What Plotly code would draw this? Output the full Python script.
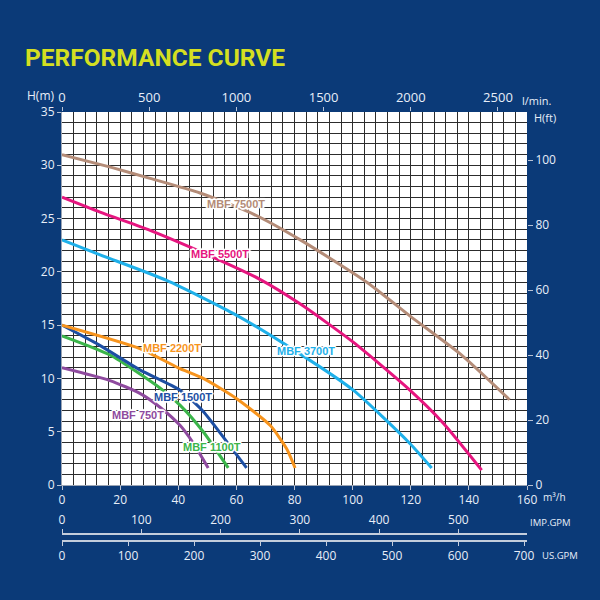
import plotly.graph_objects as go

# ---- unit conversions (from m3/h and m) ----
M3H_TO_LPM = 1000 / 60
M3H_TO_IMPGPM = 1000 / 60 / 4.54609
M3H_TO_USGPM = 1000 / 60 / 3.785411
M_TO_FT = 1 / 0.3048

# ---- data: flow Q (m3/h) vs head H (m) ----
q_750 = [0, 16.5, 26.8, 33.7, 40.6, 45.0, 50.3]
h_750 = [11.0, 9.8, 8.6, 7.3, 5.6, 4.0, 1.6]

q_1100 = [0, 16.5, 33.7, 40.6, 48.6, 57.2]
h_1100 = [14.0, 12.2, 9.1, 7.5, 5.0, 1.6]

q_1500 = [0, 13.0, 26.8, 40.6, 48.6, 56.6, 63.5]
h_1500 = [15.0, 13.1, 10.8, 8.9, 6.9, 4.1, 1.6]

q_2200 = [0, 26.8, 40.0, 48.6, 60.1, 71.6, 77.3, 80.2]
h_2200 = [15.0, 12.8, 11.0, 10.0, 8.1, 5.6, 3.4, 1.6]

q_3700 = [0, 13.1, 36.0, 58.9, 77.3, 100.2, 119.7, 127.2]
h_3700 = [23.0, 21.6, 19.2, 16.1, 13.1, 8.9, 3.9, 1.6]

q_5500 = [0, 13.1, 30.3, 45.1, 68.1, 81.9, 100.2, 119.7, 131.2, 144.4]
h_5500 = [27.0, 25.6, 23.9, 22.2, 19.3, 17.0, 13.4, 8.9, 5.8, 1.4]

q_7500 = [0, 17.0, 30.0, 47.5, 66.0, 82.0, 105.0, 120.0, 137.0, 154.0]
h_7500 = [31.0, 29.8, 28.8, 27.4, 25.4, 23.0, 19.0, 15.8, 12.3, 8.0]

models = ["MBF 750T", "MBF 1100T", "MBF 1500T", "MBF 2200T",
          "MBF 3700T", "MBF 5500T", "MBF 7500T"]
flows = [q_750, q_1100, q_1500, q_2200, q_3700, q_5500, q_7500]
heads = [h_750, h_1100, h_1500, h_2200, h_3700, h_5500, h_7500]
colors = ["#8e4a9e", "#3bb54a", "#1d4fa3", "#f7941d",
          "#1eb0ea", "#e6157f", "#b48c78"]

# label anchor points (data coords)
label_q = [26.2, 51.5, 41.6, 37.7, 83.9, 54.4, 59.9]
label_h = [6.6, 3.6, 8.3, 12.9, 12.6, 21.7, 26.4]

x_ticks = [0, 20, 40, 60, 80, 100, 120, 140, 160]
y_ticks = [0, 5, 10, 15, 20, 25, 30, 35]
lpm_ticks = [0, 500, 1000, 1500, 2000, 2500]
ft_ticks = [0, 20, 40, 60, 80, 100]
imp_ticks = [0, 100, 200, 300, 400, 500]
us_ticks = [0, 100, 200, 300, 400, 500, 600, 700]

Q_MAX = 160
H_MAX = 35

# ---- layout geometry ----
W, H = 600, 600
ML, MR, MT, MB = 62, 73, 112, 40
PW = W - ML - MR
PH = H - MT - MB
PLOT_BOTTOM = 485


def px(xp):
    return (xp - ML) / PW


def py(yp):
    return (H - MB - yp) / PH


BG = "#0b3a78"
TXT = "#e8eef8"
GRID = "#2c2c2c"
TICKC = "#b8c2d4"

fig = go.Figure()
for name, q, h, c in zip(models, flows, heads, colors):
    fig.add_trace(go.Scatter(x=q, y=h, mode="lines", name=name,
                             line=dict(color=c, width=3, shape="spline", smoothing=0.6),
                             hoverinfo="skip", showlegend=False))

# invisible companions so that the secondary unit axes are drawn
ghost = dict(mode="lines", line=dict(width=0), opacity=0, hoverinfo="skip", showlegend=False)
fig.add_trace(go.Scatter(x=[v * M3H_TO_LPM for v in q_7500], y=h_7500, xaxis="x2", yaxis="y", **ghost))
fig.add_trace(go.Scatter(x=q_7500, y=[v * M_TO_FT for v in h_7500], xaxis="x", yaxis="y2", **ghost))
fig.add_trace(go.Scatter(x=[v * M3H_TO_IMPGPM for v in q_7500], y=h_7500, xaxis="x3", yaxis="y", **ghost))
fig.add_trace(go.Scatter(x=[v * M3H_TO_USGPM for v in q_7500], y=h_7500, xaxis="x4", yaxis="y", **ghost))

annotations = []
shadow = ("1px 0 0 #fff, -1px 0 0 #fff, 0 1px 0 #fff, 0 -1px 0 #fff, "
          "1px 1px 0 #fff, -1px -1px 0 #fff, 1px -1px 0 #fff, -1px 1px 0 #fff, "
          "2px 0 1px #fff, -2px 0 1px #fff, 0 2px 1px #fff, 0 -2px 1px #fff")
for name, lq, lh, c in zip(models, label_q, label_h, colors):
    annotations.append(dict(x=lq, y=lh, xref="x", yref="y", text="<b>%s</b>" % name,
                            showarrow=False,
                            font=dict(family="Liberation Sans", size=11, color=c, shadow=shadow)))

side_labels = [
    ("H(m)", 40, 96, 12),
    ("l/min.", 537, 100, 11),
    ("H(ft)", 545, 117, 11),
    ("m³/h", 554, 497, 10),
    ("IMP.GPM", 550, 522, 9.5),
    ("US.GPM", 560, 555, 9.5),
]
for t, xp, yp, s in side_labels:
    annotations.append(dict(x=px(xp), y=py(yp), xref="paper", yref="paper", text=t,
                            showarrow=False, xanchor="center", yanchor="middle",
                            font=dict(family="Open Sans", size=s, color=TXT)))

tickfont = dict(family="Open Sans", size=12, color=TXT)
ydom0 = py(PLOT_BOTTOM)

fig.update_layout(
    width=W, height=H,
    margin=dict(l=ML, r=MR, t=MT, b=MB),
    paper_bgcolor=BG, plot_bgcolor="white",
    title=dict(text="<b>PERFORMANCE CURVE</b>", xref="container", yref="container",
               x=25 / W, y=1 - 57 / H, xanchor="left", yanchor="middle",
               font=dict(family="Roboto", size=24.5, color="#d4df21")),
    xaxis=dict(range=[0, Q_MAX], domain=[0, 1], anchor="y", tickvals=x_ticks,
               showgrid=True, gridcolor=GRID, gridwidth=1.3,
               minor=dict(dtick=4, showgrid=True, gridcolor=GRID, gridwidth=1.3, ticks=""),
               ticks="outside", ticklen=4, tickcolor=TICKC, tickfont=tickfont,
               showline=True, linecolor="#9aa4b4", linewidth=1, zeroline=False),
    yaxis=dict(range=[0, H_MAX], domain=[ydom0, 1], anchor="x", tickvals=y_ticks,
               showgrid=True, gridcolor=GRID, gridwidth=1.3,
               minor=dict(dtick=1, showgrid=True, gridcolor=GRID, gridwidth=1.3, ticks=""),
               ticks="outside", ticklen=4, tickcolor=TICKC, tickfont=tickfont,
               showline=True, linecolor="#9aa4b4", linewidth=1, zeroline=False),
    xaxis2=dict(range=[0, Q_MAX * M3H_TO_LPM], overlaying="x", side="top", anchor="y",
                tickvals=lpm_ticks, showgrid=False, zeroline=False,
                ticks="outside", ticklen=4, tickcolor=TICKC,
                tickfont=dict(family="Open Sans", size=13, color=TXT)),
    yaxis2=dict(range=[0, H_MAX * M_TO_FT], overlaying="y", side="right", anchor="x",
                tickvals=ft_ticks, showgrid=False, zeroline=False,
                ticks="outside", ticklen=5, tickcolor=TICKC, tickfont=tickfont),
    xaxis3=dict(range=[0, Q_MAX * M3H_TO_IMPGPM], overlaying="x", anchor="free",
                position=py(534), side="top", tickvals=imp_ticks, showgrid=False,
                zeroline=False, showline=True, linecolor="#c4cddc", linewidth=1.5,
                ticks="outside", ticklen=4, tickcolor="#c4cddc", tickfont=tickfont),
    xaxis4=dict(range=[0, Q_MAX * M3H_TO_USGPM], overlaying="x", anchor="free",
                position=py(541), side="bottom", tickvals=us_ticks, showgrid=False,
                zeroline=False, showline=True, linecolor="#c4cddc", linewidth=1.5,
                ticks="outside", ticklen=4, tickcolor="#c4cddc", tickfont=tickfont),
    annotations=annotations,
)

fig.write_html("out.html", config={"displayModeBar": False},
               post_script="document.body.style.margin='0px';")
